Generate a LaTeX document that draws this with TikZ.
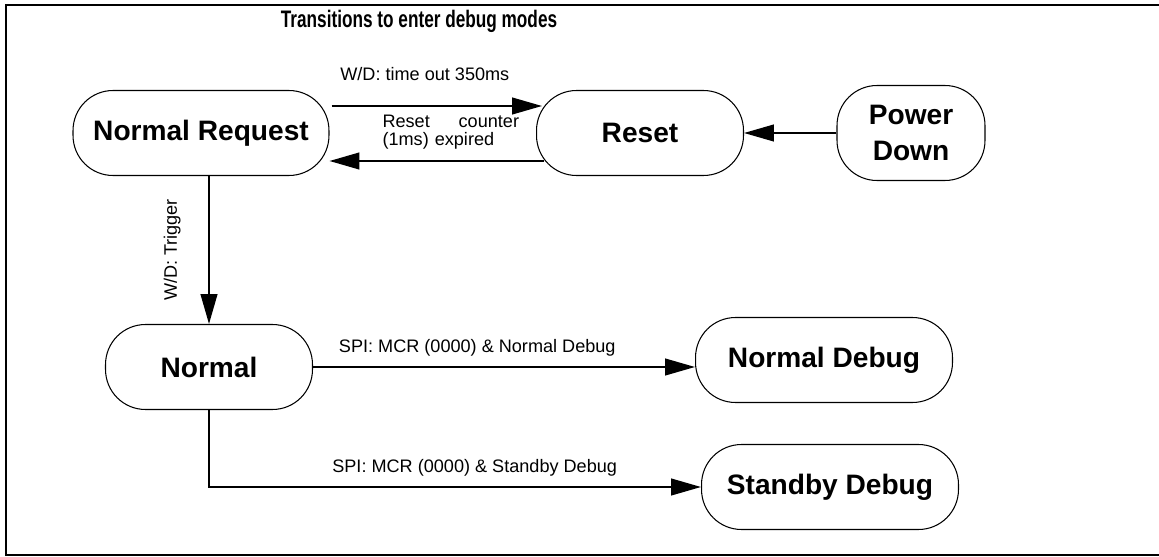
\documentclass[tikz,border=0pt]{standalone}
\usepackage{fontspec}
\setmainfont{Liberation Sans}
\newfontfamily\titlefont[FakeStretch=0.72]{Liberation Sans}
\usetikzlibrary{arrows.meta}
\tikzset{
    mode/.style = {
        draw,
        line width=0.6pt,
        rounded corners=0.8cm,
        minimum height=1.7cm,
        align=center,
        font=\fontsize{16}{20}\selectfont\bfseries,
        },
    trans/.style = {
        draw,
        line width=1.1pt,
        -{Triangle[length=17pt,width=9.5pt]},
        },
    lbl/.style = {
        font=\fontsize{10.3}{10}\selectfont,
        },
    heading/.style = {
        font=\titlefont\fontsize{13.6}{16}\selectfont\bfseries,
        },
    frame/.style = {
        line width=1.1pt,
        },
}

\begin{document}
\begin{tikzpicture}[x=0.02cm, y=-0.02cm]
            \useasboundingbox (0,0) rectangle (1159,557);
            \draw[frame] (1159,5) -- (6,5) -- (6,555) -- (1159,555);

            \node[heading] (title) at (419,21) {Transitions to enter debug modes};

            \node[mode, minimum width=5.12cm] (NReq) at (201,133) {Normal Request};
            \node[mode, minimum width=4.14cm] (Reset) at (640,133) {Reset};
            \node[mode, minimum width=2.96cm, minimum height=1.9cm] (PDown) at (911,133) {Power\\Down};
            \node[mode, minimum width=4.14cm] (Normal) at (209,367) {Normal};
            \node[mode, minimum width=5.14cm] (NDebug) at (824,360) {Normal Debug};
            \node[mode, minimum width=5.14cm] (SDebug) at (830,487) {Standby Debug};

            \path ([shift={(2,-27)}]NReq.east) edge[trans]
                node[lbl, above=10.5pt, xshift=-6.8pt] {W/D: time out 350ms}
                ([shift={(6,-27)}]Reset.west);
            \path ([shift={(8,28)}]Reset.west) edge[trans]
                node[lbl, above=2.8pt, xshift=8pt, text width=77.7pt, align=left] {Reset\hfill counter\\(1ms) expired}
                ([shift={(0,28)}]NReq.east);
            \path (PDown.west) edge[trans] (Reset.east);
            \path (Normal.north |- NReq.south) edge[trans]
                node[lbl, xshift=-21pt, rotate=90] {W/D: Trigger} (Normal.north);
            \path (Normal.east) edge[trans]
                node[lbl, above=2pt, pos=0.43] {SPI: MCR (0000) \& Normal Debug} (Normal.east -| NDebug.west);
            \draw[trans] (Normal.south) |-
                node[lbl, above=2pt, pos=0.77] {SPI: MCR (0000) \& Standby Debug} (SDebug.west);
        \end{tikzpicture}
\end{document}
